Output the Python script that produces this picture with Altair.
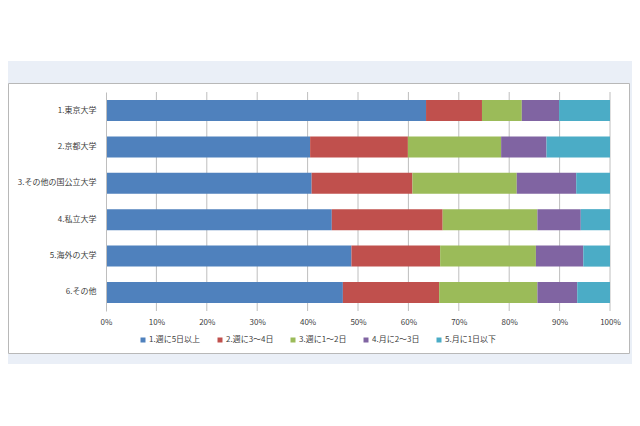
import altair as alt
import pandas as pd

categories = ["1.東京大学", "2.京都大学", "3.その他の国公立大学", "4.私立大学", "5.海外の大学", "6.その他"]
series = ["1.週に5日以上", "2.週に3～4日", "3.週に1～2日", "4.月に2～3日", "5.月に1日以下"]
s1 = [63.5, 40.5, 40.8, 44.8, 48.7, 47.0]
s2 = [11.1, 19.4, 20.0, 22.0, 17.6, 19.1]
s3 = [7.9, 18.5, 20.7, 18.8, 19.0, 19.5]
s4 = [7.4, 9.0, 11.8, 8.6, 9.4, 7.9]
s5 = [10.1, 12.6, 6.7, 5.8, 5.3, 6.5]
colors = ["#4F81BD", "#C0504D", "#9BBB59", "#8064A2", "#4BACC6"]
x_ticks = [0, 0.1, 0.2, 0.3, 0.4, 0.5, 0.6, 0.7, 0.8, 0.9, 1.0]

rows = []
for si, (name, vals) in enumerate(zip(series, [s1, s2, s3, s4, s5])):
    for ci, cat in enumerate(categories):
        rows.append({"category": cat, "series": name, "order": si, "value": vals[ci]})
df = pd.DataFrame(rows)
grid_df = pd.DataFrame({"t": x_ticks[1:]})

FONT = "Noto Sans CJK JP"
TXT = "#404040"
W, H = 504, 219
xscale = alt.Scale(domain=[0, 1], nice=False)

deco = alt.Data(values=[{"a": 1}])

band = alt.Chart(deco).mark_rect(color="#EAEFF7").encode(
    x=alt.value(-98), x2=alt.value(530), y=alt.value(-31), y2=alt.value(272)
)
box = alt.Chart(deco).mark_rect(fill="white", stroke="#B8B8B8", strokeWidth=1).encode(
    x=alt.value(-97.5), x2=alt.value(523.5), y=alt.value(-8.5), y2=alt.value(261.5)
)
grid = alt.Chart(grid_df).mark_rule(color="#BEBEBE", strokeWidth=1).encode(
    x=alt.X("t:Q", scale=xscale, title=None),
    y=alt.value(0), y2=alt.value(H),
)

bars = alt.Chart(df).mark_bar().encode(
    y=alt.Y("category:N", sort=categories, title=None,
            scale=alt.Scale(paddingInner=0.42, paddingOuter=0.22),
            axis=alt.Axis(labelFont=FONT, labelFontSize=8, labelColor=TXT,
                          labelPadding=10, ticks=False, domain=True,
                          domainColor="#BEBEBE", grid=False, zindex=1)),
    x=alt.X("value:Q", stack="normalize", title=None, scale=xscale,
            axis=alt.Axis(values=x_ticks, format=".0%", labelFont=FONT,
                          labelFontSize=8, labelColor=TXT, labelPadding=7,
                          labelFlush=False, labelOverlap=False, labelBound=False,
                          ticks=False, domain=False, grid=False, zindex=1)),
    color=alt.Color("series:N", sort=series,
                    scale=alt.Scale(domain=series, range=colors),
                    legend=alt.Legend(title=None, orient="none", legendX=33, legendY=244,
                                      direction="horizontal", columns=5,
                                      symbolType="square", symbolSize=25,
                                      symbolStrokeWidth=0, labelFont=FONT,
                                      labelFontSize=8, labelColor=TXT,
                                      labelOffset=2, columnPadding=15, zindex=1)),
    order=alt.Order("order:Q", sort="ascending"),
)

chart = alt.layer(band, box, grid, bars).properties(
    width=W, height=H,
    autosize=alt.AutoSizeParams(type="none"),
    padding={"left": 98, "top": 84, "right": 22, "bottom": 97},
    background="white",
).configure_view(stroke=None)

chart.save("out.html", embed_options={"renderer": "svg", "actions": False})
